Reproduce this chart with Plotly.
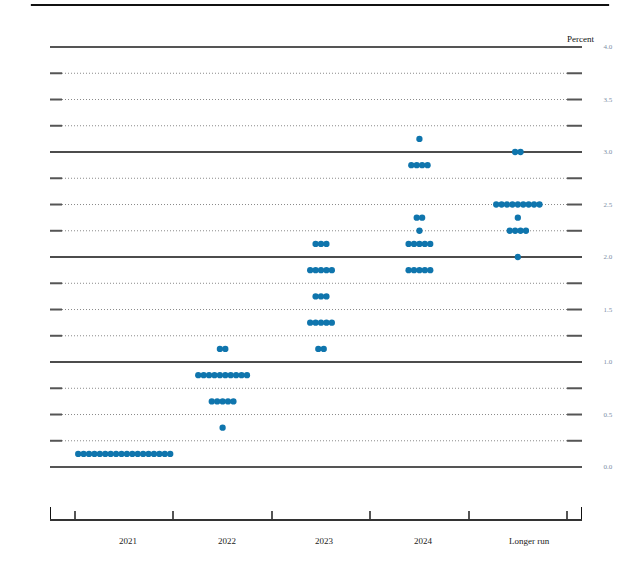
import plotly.graph_objects as go

# FOMC participants' target federal funds rate projections
categories = ["2021", "2022", "2023", "2024", "Longer run"]
rates = [
    [0.125],
    [0.375, 0.625, 0.875, 1.125],
    [1.125, 1.375, 1.625, 1.875, 2.125],
    [1.875, 2.125, 2.25, 2.375, 2.875, 3.125],
    [2.0, 2.25, 2.375, 2.5, 3.0],
]
counts = [
    [18],
    [1, 5, 10, 2],
    [2, 5, 3, 5, 3],
    [5, 5, 1, 2, 4, 1],
    [1, 4, 1, 9, 2],
]
grid_levels = [i * 0.25 for i in range(17)]
tick_vals = [0, 0.5, 1, 1.5, 2, 2.5, 3, 3.5, 4]
tick_text = ["0.0", "0.5", "1.0", "1.5", "2.0", "2.5", "3.0", "3.5", "4.0"]

DOT = "#0f75ad"
SERIF = "Liberation Serif"
step = 0.055  # horizontal gap between dots in one row

xs, ys = [], []
for ci, (vals, ns) in enumerate(zip(rates, counts)):
    for v, n in zip(vals, ns):
        for k in range(n):
            xs.append(ci + (k - (n - 1) / 2) * step)
            ys.append(v)

fig = go.Figure(go.Scatter(
    x=xs, y=ys, mode="markers",
    marker=dict(color=DOT, size=6.3, line=dict(width=0)),
    hoverinfo="y", showlegend=False,
))

x0, x1 = -0.754, 4.652
shapes = []
for lv in grid_levels:
    if lv == int(lv):
        col = "#555555" if lv in (0, 4) else "#111111"
        w = 2 if lv in (0, 4) else 1.5
        shapes.append(dict(type="line", xref="x", yref="y", x0=x0, x1=x1, y0=lv, y1=lv,
                           line=dict(color=col, width=w), layer="below"))
    else:
        shapes.append(dict(type="line", xref="x", yref="y", x0=-0.632, x1=4.5, y0=lv, y1=lv,
                           line=dict(color="#8a8a8a", width=1, dash="1px,2px"), layer="below"))
        for a, b in ((x0, -0.632), (4.5, x1)):
            shapes.append(dict(type="line", xref="x", yref="y", x0=a, x1=b, y0=lv, y1=lv,
                               line=dict(color="#555555", width=2), layer="below"))

# end caps of the bottom axis
for xe in (x0, x1):
    shapes.append(dict(type="line", xref="x", yref="y", x0=xe, x1=xe, y0=-0.495, y1=-0.38,
                       line=dict(color="#111111", width=2)))
# rule across the top
shapes.append(dict(type="line", xref="paper", yref="paper", x0=-0.036, x1=1.051, y0=1.051, y1=1.051,
                   line=dict(color="#111111", width=2)))

annotations = [dict(text="Percent", xref="paper", yref="paper", x=0.998, y=0.982,
                    xanchor="center", yanchor="middle", showarrow=False,
                    font=dict(family=SERIF, size=9, color="#111111"))]
for ci, name in enumerate(categories):
    annotations.append(dict(text=name, xref="x", yref="paper",
                            x=ci + (0.12 if ci == 4 else 0.04), y=-0.045,
                            xanchor="center", yanchor="middle", showarrow=False,
                            font=dict(family=SERIF, size=9, color="#222222")))

fig.update_layout(
    width=625, height=563,
    margin=dict(l=50, r=43, t=30, b=44),
    plot_bgcolor="white", paper_bgcolor="white",
    shapes=shapes, annotations=annotations,
    xaxis=dict(range=[x0, x1], showgrid=False, zeroline=False, automargin=False,
               showline=True, linecolor="#333333", linewidth=1.5,
               tickvals=[-0.5, 0.5, 1.5, 2.5, 3.5, 4.5], ticks="inside", ticklen=8,
               tickwidth=1.5, tickcolor="#555555", showticklabels=False),
    yaxis=dict(range=[-0.495, 4.162], side="right", showgrid=False, zeroline=False,
               automargin=False,
               tickvals=tick_vals, ticktext=tick_text, ticks="outside", ticklen=19,
               tickcolor="rgba(0,0,0,0)", tickfont=dict(family=SERIF, size=7, color="#7d8ea6")),
)

fig.write_html("out.html", config={"displayModeBar": False},
               post_script="document.body.style.margin='0';")
